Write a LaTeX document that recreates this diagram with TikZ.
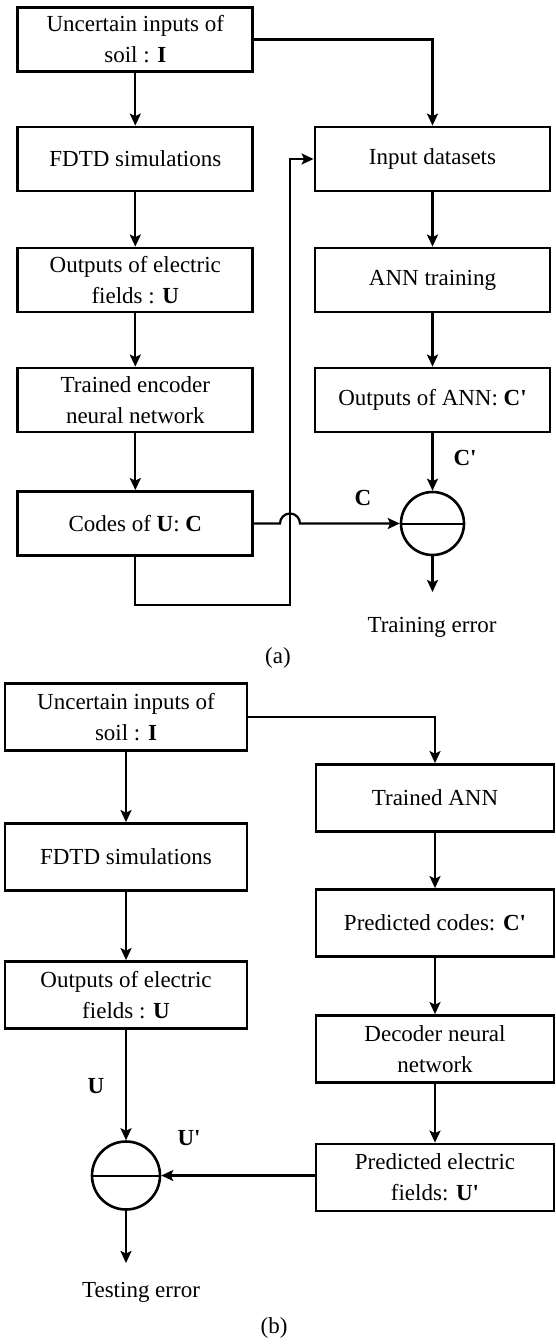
\documentclass[tikz,border=0pt]{standalone}
\usepackage{fontspec}
\setmainfont{Liberation Serif}
\usetikzlibrary{arrows.meta}
\begin{document}
\begin{tikzpicture}[x=1pt,y=-1pt,
  txt/.style={font=\fontsize{23}{31}\selectfont},
  boxa/.style={txt,draw,line width=2.8pt,minimum width=235pt,minimum height=64pt,align=center,inner sep=0pt},
  boxb/.style={boxa,minimum height=67pt},
  sumnode/.style={draw,circle,line width=2.6pt,inner sep=0pt},
  conn/.style={line width=2.2pt,-{Stealth[length=12pt,width=11pt,inset=2.5pt]}},
  lbl/.style={txt,inner sep=0pt}]
\useasboundingbox (0,0) rectangle (555,1344);
% ---------- (a) ----------
\node[boxa] (a1) at (135.3,39.5) {Uncertain inputs of\\soil : \textbf{I}};
\node[boxa] (a2) at (135.3,159) {FDTD simulations};
\node[boxa] (a3) at (135.3,280) {Outputs of electric\\fields : \textbf{U}};
\node[boxa] (a4) at (135.3,400) {Trained encoder\\neural network};
\node[boxa] (a5) at (135.3,523.5) {Codes of \textbf{U}: \textbf{C}};
\node[boxa] (r1) at (432.5,159) {Input datasets};
\node[boxa] (r2) at (432.5,280) {ANN training};
\node[boxa] (r3) at (432.5,400) {Outputs of ANN: \textbf{C\textquotesingle}};
\node[sumnode,minimum size=63pt] (sa) at (432.5,523.5) {};
\draw[line width=2pt] (sa.west) -- (sa.east);
\coordinate (ea) at (432.5,592);
\coordinate (bp1) at (135.3,605);
\coordinate (bp2) at (290,605);
\coordinate (bp3) at (290,159);
\coordinate (h1) at (280,523.5);

\draw[conn] (a1) -- (a2);
\draw[conn] (a2) -- (a3);
\draw[conn] (a3) -- (a4);
\draw[conn] (a4) -- (a5);
\draw[conn] (a1.east) -| (r1.north);
\draw[conn] (r1) -- (r2);
\draw[conn] (r2) -- (r3);
\draw[conn] (r3) -- (sa.north);
\draw[conn] (a5.south) -- (bp1) -- (bp2) -- (bp3) -- (r1.west);
\draw[conn] (a5.east) -- (h1) arc[start angle=180,end angle=0,radius=10pt] -- (sa.west);
\draw[conn] (sa.south) -- (ea);
\node[lbl] (lcp) at (465,458) {\textbf{C\textquotesingle}};
\node[lbl] (lc) at (363,498) {\textbf{C}};
\node[lbl] (te) at (432,627) {Training error};
\node[lbl] (capa) at (278,658) {(a)};
% ---------- (b) ----------
\node[boxb,minimum width=242pt] (b1) at (126,717) {Uncertain inputs of\\soil : \textbf{I}};
\node[boxb,minimum width=242pt] (b2) at (126,857) {FDTD simulations};
\node[boxb,minimum width=242pt] (b3) at (126,995) {Outputs of electric\\fields : \textbf{U}};
\node[boxb,minimum width=238pt] (q1) at (435,798) {Trained ANN};
\node[boxb,minimum width=238pt] (q2) at (435,923) {Predicted codes: \textbf{C\textquotesingle}};
\node[boxb,minimum width=238pt] (q3) at (435,1049) {Decoder neural\\network};
\node[boxb,minimum width=238pt] (q4) at (435,1177.5) {Predicted electric\\fields: \textbf{U\textquotesingle}};
\node[sumnode,minimum size=68pt] (sb) at (126,1175.5) {};
\draw[line width=2pt] (sb.west) -- (sb.east);
\coordinate (eb) at (126,1263);

\draw[conn] (b1) -- (b2);
\draw[conn] (b2) -- (b3);
\draw[conn] (b3) -- (sb.north);
\draw[conn] (b1.east) -| (q1.north);
\draw[conn] (q1) -- (q2);
\draw[conn] (q2) -- (q3);
\draw[conn] (q3) -- (q4);
\draw[conn] (q4.west |- sb.east) -- (sb.east);
\draw[conn] (sb.south) -- (eb);
\node[lbl] (lu) at (96,1086) {\textbf{U}};
\node[lbl] (lup) at (189,1138) {\textbf{U\textquotesingle}};
\node[lbl] (tb) at (141,1292) {Testing error};
\node[lbl] (capb) at (274,1328) {(b)};
\end{tikzpicture}
\end{document}
